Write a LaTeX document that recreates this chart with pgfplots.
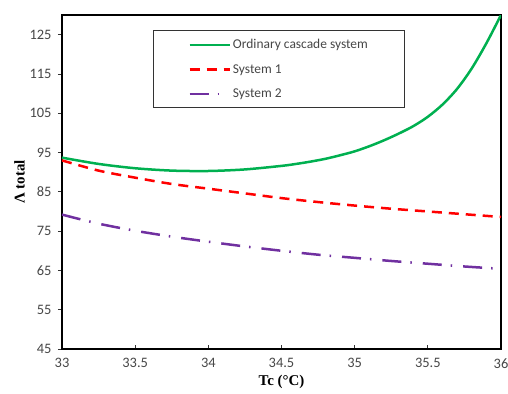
\documentclass[border=0pt]{standalone}
\usepackage{fontspec}
\setmainfont{Liberation Serif}
\newfontfamily\carlito{Carlito}
\usepackage{pgfplots}
\pgfplotsset{compat=1.18}
\definecolor{cgreen}{RGB}{0,176,80}
\definecolor{cred}{RGB}{255,0,0}
\definecolor{cpurple}{RGB}{112,48,160}
\begin{document}
\begin{tikzpicture}
\begin{axis}[
  scale only axis,
  width=439bp, height=334bp,
  xmin=33, xmax=36, ymin=45, ymax=130,
  xtick={33,33.5,34,34.5,35,35.5,36},
  ytick={45,55,65,75,85,95,105,115,125},
  xticklabels={33,33.5,34,34.5,35,35.5,36},
  yticklabels={45,55,65,75,85,95,105,115,125},
  axis line style={line width=1.5bp, black},
  x tick style={black!80, line width=0.7bp},
  y tick style={black!80, line width=0.7bp},
  xtick pos=bottom, ytick pos=left,
  xtick align=inside, ytick align=outside,
  major tick length=4bp,
  tick label style={font=\carlito\fontsize{14.5}{16}\selectfont, color=black!72},
  xticklabel style={yshift=-6bp},
  yticklabel style={xshift=-3bp},
  xlabel={\textbf{Tc (°C)}},
  ylabel={\textbf{Λ total}},
  label style={font=\fontsize{15}{17}\selectfont},
  ylabel style={yshift=-2bp},
  legend style={at={(rel axis cs:0.207,0.955)}, anchor=north west,
    draw=black!80, line width=1.2bp, font=\carlito\fontsize{13.5}{16}\selectfont,
    text=black!72,
    inner xsep=35bp, inner ysep=7bp, row sep=10bp},
  legend cell align=left,
  legend image code/.code={\draw[#1, line width=2.5bp] (0bp,0bp) -- (40bp,0bp);},
]
\coordinate (ll) at (rel axis cs:0,0);
\coordinate (ur) at (rel axis cs:1,1);
\addplot[cgreen, line width=2.5bp, smooth, tension=0.5] coordinates {
(33,93.7) (33.25,92.1) (33.5,91.0) (33.75,90.4) (34,90.3) (34.25,90.7) (34.5,91.6) (34.6,92.1) (34.7,92.7) (34.8,93.4) (34.9,94.3) (35.0,95.3) (35.1,96.6) (35.2,98.1) (35.3,99.8) (35.4,101.7) (35.5,104.1) (35.6,107.2) (35.7,111.2) (35.8,116.4) (35.9,122.8) (36,130)
};
\addlegendentry{Ordinary cascade system}
\addplot[cred, line width=2.5bp, dash pattern=on 10bp off 7bp, smooth] coordinates {
(33,93.0) (33.25,90.4) (33.5,88.6) (33.75,87.0) (34,85.8) (34.25,84.6) (34.5,83.4) (34.75,82.4) (35,81.5) (35.25,80.7) (35.5,80.0) (35.75,79.3) (36,78.6)
};
\addlegendentry{System 1}
\addplot[cpurple, line width=2.5bp, dash pattern=on 19bp off 9bp on 1.5bp off 11bp, smooth] coordinates {
(33,79.2) (33.25,76.9) (33.5,75.1) (33.75,73.6) (34,72.3) (34.25,71.1) (34.5,70.0) (34.75,69.0) (35,68.2) (35.25,67.4) (35.5,66.7) (35.75,66.0) (36,65.4)
};
\addlegendentry{System 2}
\end{axis}
\pgfresetboundingbox
\useasboundingbox ([shift={(-62bp,-45bp)}]ll) rectangle ([shift={(7bp,15bp)}]ur);
\end{tikzpicture}
\end{document}
